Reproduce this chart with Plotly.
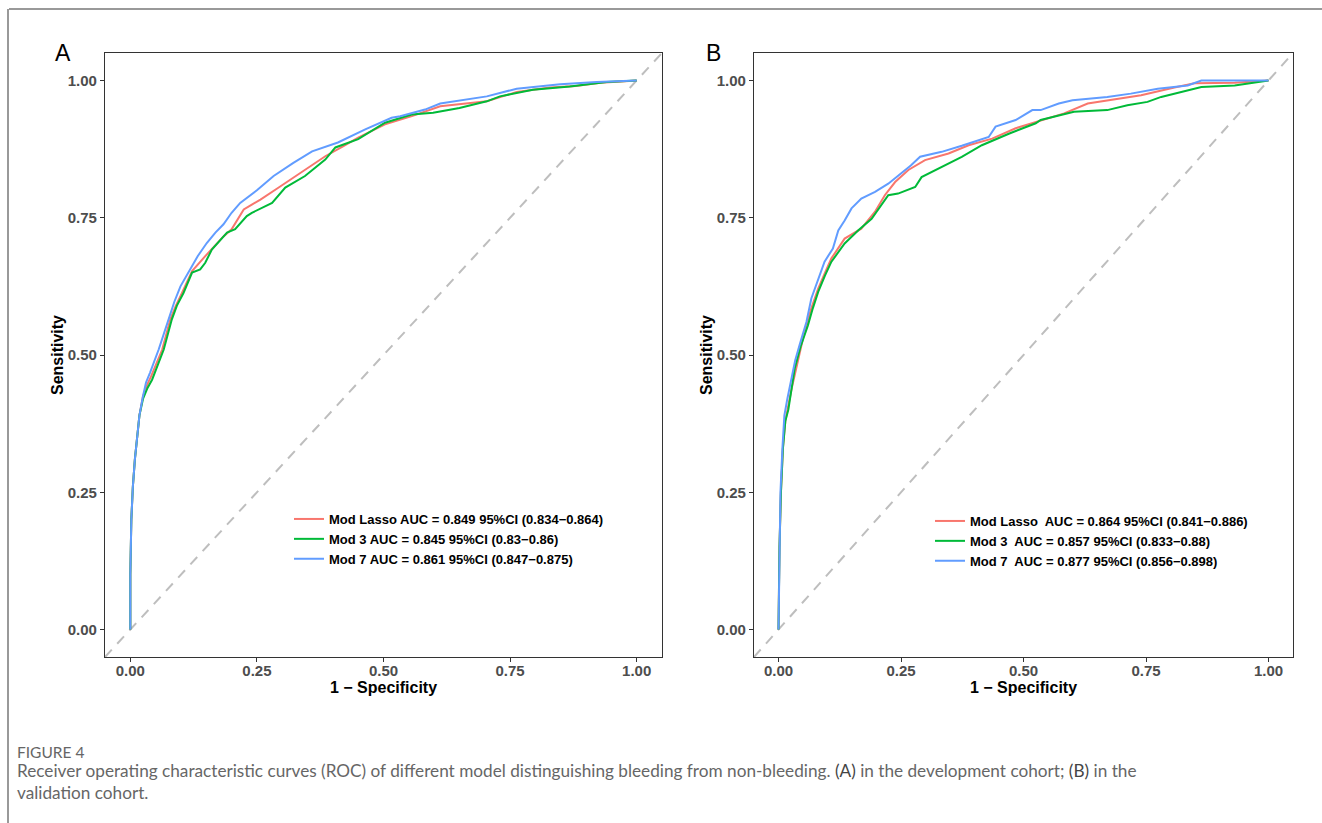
import plotly.graph_objects as go

W, H = 1322, 823

# ---------------- data ----------------
tick_vals = [0.0, 0.25, 0.5, 0.75, 1.0]
tick_text = ["0.00", "0.25", "0.50", "0.75", "1.00"]

# Panel A (development cohort)
a_lasso_fpr = [0, 0, 0.002, 0.005, 0.009, 0.013, 0.018, 0.025, 0.033, 0.041, 0.052, 0.063, 0.079, 0.09, 0.102, 0.122, 0.148, 0.184, 0.2, 0.224, 0.24, 0.257, 0.293, 0.32, 0.345, 0.385, 0.42, 0.45, 0.503, 0.556, 0.612, 0.66, 0.704, 0.763, 0.829, 0.88, 0.928, 0.97, 1.0]
a_lasso_tpr = [0, 0.1, 0.2, 0.26, 0.31, 0.35, 0.39, 0.425, 0.445, 0.461, 0.487, 0.51, 0.565, 0.59, 0.613, 0.653, 0.68, 0.716, 0.729, 0.765, 0.774, 0.783, 0.805, 0.822, 0.838, 0.862, 0.88, 0.896, 0.92, 0.935, 0.953, 0.958, 0.962, 0.979, 0.987, 0.99, 0.996, 0.998, 1.0]
a_m3_fpr = [0, 0, 0.002, 0.005, 0.009, 0.013, 0.018, 0.025, 0.034, 0.043, 0.055, 0.066, 0.082, 0.092, 0.105, 0.122, 0.138, 0.148, 0.161, 0.191, 0.207, 0.23, 0.24, 0.276, 0.28, 0.306, 0.345, 0.385, 0.405, 0.45, 0.503, 0.556, 0.598, 0.65, 0.704, 0.73, 0.795, 0.868, 0.941, 1.0]
a_m3_tpr = [0, 0.1, 0.2, 0.26, 0.31, 0.35, 0.39, 0.42, 0.44, 0.455, 0.483, 0.51, 0.565, 0.59, 0.613, 0.65, 0.656, 0.668, 0.692, 0.723, 0.729, 0.753, 0.759, 0.775, 0.777, 0.805, 0.826, 0.856, 0.878, 0.893, 0.923, 0.938, 0.941, 0.95, 0.962, 0.971, 0.983, 0.989, 0.997, 1.0]
a_m7_fpr = [0, 0, 0.002, 0.005, 0.009, 0.013, 0.018, 0.025, 0.031, 0.039, 0.048, 0.056, 0.066, 0.076, 0.087, 0.099, 0.118, 0.133, 0.151, 0.168, 0.184, 0.2, 0.217, 0.25, 0.283, 0.306, 0.322, 0.359, 0.41, 0.464, 0.516, 0.533, 0.582, 0.612, 0.66, 0.704, 0.763, 0.849, 0.921, 1.0]
a_m7_tpr = [0, 0.1, 0.2, 0.26, 0.31, 0.35, 0.39, 0.425, 0.45, 0.468, 0.49, 0.51, 0.538, 0.565, 0.597, 0.625, 0.656, 0.68, 0.704, 0.723, 0.738, 0.759, 0.777, 0.8, 0.826, 0.841, 0.85, 0.871, 0.887, 0.911, 0.932, 0.935, 0.947, 0.958, 0.965, 0.971, 0.985, 0.993, 0.997, 1.0]

# Panel B (validation cohort)
b_lasso_fpr = [0, 0.002, 0.005, 0.009, 0.014, 0.02, 0.027, 0.033, 0.043, 0.053, 0.067, 0.081, 0.095, 0.108, 0.135, 0.169, 0.197, 0.217, 0.238, 0.265, 0.299, 0.347, 0.388, 0.436, 0.484, 0.538, 0.583, 0.631, 0.671, 0.74, 0.808, 0.849, 0.931, 1.0]
b_lasso_tpr = [0, 0.15, 0.25, 0.33, 0.38, 0.41, 0.44, 0.463, 0.5, 0.542, 0.585, 0.621, 0.65, 0.676, 0.712, 0.73, 0.761, 0.791, 0.815, 0.837, 0.855, 0.867, 0.882, 0.894, 0.913, 0.928, 0.94, 0.958, 0.964, 0.973, 0.987, 0.995, 0.996, 1.0]
b_m3_fpr = [0, 0.002, 0.005, 0.009, 0.014, 0.02, 0.027, 0.033, 0.045, 0.06, 0.07, 0.081, 0.095, 0.108, 0.135, 0.163, 0.19, 0.224, 0.244, 0.279, 0.292, 0.333, 0.374, 0.415, 0.47, 0.525, 0.535, 0.603, 0.671, 0.712, 0.753, 0.781, 0.822, 0.863, 0.931, 0.965, 1.0]
b_m3_tpr = [0, 0.15, 0.25, 0.33, 0.38, 0.4, 0.44, 0.475, 0.515, 0.554, 0.585, 0.615, 0.645, 0.67, 0.703, 0.727, 0.748, 0.791, 0.794, 0.806, 0.824, 0.843, 0.861, 0.882, 0.903, 0.922, 0.928, 0.943, 0.946, 0.955, 0.961, 0.97, 0.979, 0.988, 0.991, 0.996, 1.0]
b_m7_fpr = [0, 0.002, 0.004, 0.008, 0.012, 0.018, 0.026, 0.034, 0.043, 0.057, 0.067, 0.081, 0.094, 0.111, 0.122, 0.135, 0.149, 0.169, 0.197, 0.224, 0.251, 0.27, 0.289, 0.333, 0.374, 0.429, 0.443, 0.484, 0.518, 0.535, 0.572, 0.6, 0.671, 0.719, 0.774, 0.835, 0.863, 1.0]
b_m7_tpr = [0, 0.15, 0.25, 0.33, 0.39, 0.42, 0.457, 0.49, 0.518, 0.56, 0.603, 0.639, 0.67, 0.694, 0.727, 0.745, 0.767, 0.785, 0.797, 0.812, 0.831, 0.845, 0.861, 0.87, 0.881, 0.897, 0.916, 0.928, 0.946, 0.946, 0.958, 0.964, 0.97, 0.976, 0.985, 0.991, 1.0, 1.0]

a_labels = ["Mod Lasso AUC = 0.849 95%CI (0.834\u22120.864)",
            "Mod 3 AUC = 0.845 95%CI (0.83\u22120.86)",
            "Mod 7 AUC = 0.861 95%CI (0.847\u22120.875)"]
b_labels = ["Mod Lasso  AUC = 0.864 95%CI (0.841\u22120.886)",
            "Mod 3  AUC = 0.857 95%CI (0.833\u22120.88)",
            "Mod 7  AUC = 0.877 95%CI (0.856\u22120.898)"]
diag = [-0.05, 1.05]

colors = ["#F8766D", "#00BA38", "#619CFF"]

# ---------------- figure ----------------
fig = go.Figure()

for xa, ya, leg, series, labels in [
    ("x", "y", "legend", [(a_lasso_fpr, a_lasso_tpr), (a_m3_fpr, a_m3_tpr), (a_m7_fpr, a_m7_tpr)], a_labels),
    ("x2", "y2", "legend2", [(b_lasso_fpr, b_lasso_tpr), (b_m3_fpr, b_m3_tpr), (b_m7_fpr, b_m7_tpr)], b_labels),
]:
    fig.add_trace(go.Scatter(x=diag, y=diag, mode="lines", xaxis=xa, yaxis=ya,
                             line=dict(color="#BEBEBE", width=2, dash="10px,8px"),
                             showlegend=False, hoverinfo="skip"))
    for (fx, fy), lab, col in zip(series, labels, colors):
        fig.add_trace(go.Scatter(x=fx, y=fy, mode="lines", name=lab, xaxis=xa, yaxis=ya,
                                 legend=leg, line=dict(color=col, width=2)))

tickfont = dict(family="Liberation Sans, Arial", size=15, color="#4D4D4D", weight="bold")
titlefont = dict(family="Liberation Sans, Arial", size=16, color="black", weight="bold")

def xax(domain, anchor):
    return dict(domain=domain, anchor=anchor, range=[-0.05, 1.05], tickvals=tick_vals, ticktext=tick_text,
                showgrid=False, zeroline=False, showline=True, mirror=True, linecolor="#333333", linewidth=1.2,
                ticks="outside", ticklen=4, tickcolor="#333333", tickwidth=1, tickfont=tickfont,
                ticklabelstandoff=-4,
                title=dict(text="1 \u2212 Specificity", font=titlefont, standoff=2), automargin=False)

def yax(domain, anchor):
    return dict(domain=domain, anchor=anchor, range=[-0.05, 1.05], tickvals=tick_vals, ticktext=tick_text,
                showgrid=False, zeroline=False, showline=True, mirror=True, linecolor="#333333", linewidth=1.2,
                ticks="outside", ticklen=4, tickcolor="#333333", tickwidth=1, tickfont=tickfont,
                title=dict(text="Sensitivity", font=titlefont, standoff=0), automargin=False)

ydom = [1 - 657 / H, 1 - 53 / H]
legfont = dict(family="Liberation Sans, Arial", size=13, color="black", weight="bold")

fig.update_layout(
    width=W, height=H,
    margin=dict(l=0, r=0, t=0, b=0),
    paper_bgcolor="white", plot_bgcolor="white",
    xaxis=xax([105 / W, 662 / W], "y"),
    yaxis=yax(ydom, "x"),
    xaxis2=xax([754 / W, 1293 / W], "y2"),
    yaxis2=yax(ydom, "x2"),
    legend=dict(x=289 / W, y=1 - 504 / H, xanchor="left", yanchor="top", font=legfont,
                bgcolor="rgba(0,0,0,0)", itemwidth=30, tracegroupgap=0),
    legend2=dict(x=930 / W, y=1 - 506 / H, xanchor="left", yanchor="top", font=legfont,
                 bgcolor="rgba(0,0,0,0)", itemwidth=30, tracegroupgap=0),
    showlegend=True,
)

# outer frame (top + left)
fig.add_shape(type="line", xref="paper", yref="paper", x0=9 / W, x1=1, y0=1 - 9 / H, y1=1 - 9 / H,
              line=dict(color="#777777", width=1.5))
fig.add_shape(type="line", xref="paper", yref="paper", x0=8 / W, x1=8 / W, y0=0, y1=1 - 9 / H,
              line=dict(color="#777777", width=1.5))

# panel labels
fig.add_annotation(text="A", xref="paper", yref="paper", x=63 / W, y=1 - 53 / H, showarrow=False,
                   xanchor="center", yanchor="middle",
                   font=dict(family="Liberation Sans, Arial", size=23, color="black"))
fig.add_annotation(text="B", xref="paper", yref="paper", x=713 / W, y=1 - 53 / H, showarrow=False,
                   xanchor="center", yanchor="middle",
                   font=dict(family="Liberation Sans, Arial", size=23, color="black"))

# caption
fig.add_annotation(text="FIGURE 4", xref="paper", yref="paper", x=15 / W, y=1 - 752 / H,
                   xanchor="left", yanchor="middle", showarrow=False,
                   font=dict(family="Lato", size=15.5, color="#666666"))
fig.add_annotation(
    text="Receiver operating characteristic curves (ROC) of different model distinguishing bleeding from non-bleeding. "
         "<span style='color:#444444'>(A)</span> in the development cohort; <span style='color:#444444'>(B)</span> in the<br>"
         "validation cohort.",
    xref="paper", yref="paper", x=15 / W, y=1 - 758 / H, xanchor="left", yanchor="top", align="left",
    showarrow=False, font=dict(family="Lato", size=17.2, color="#666666"))

fig.write_html("out.html")
